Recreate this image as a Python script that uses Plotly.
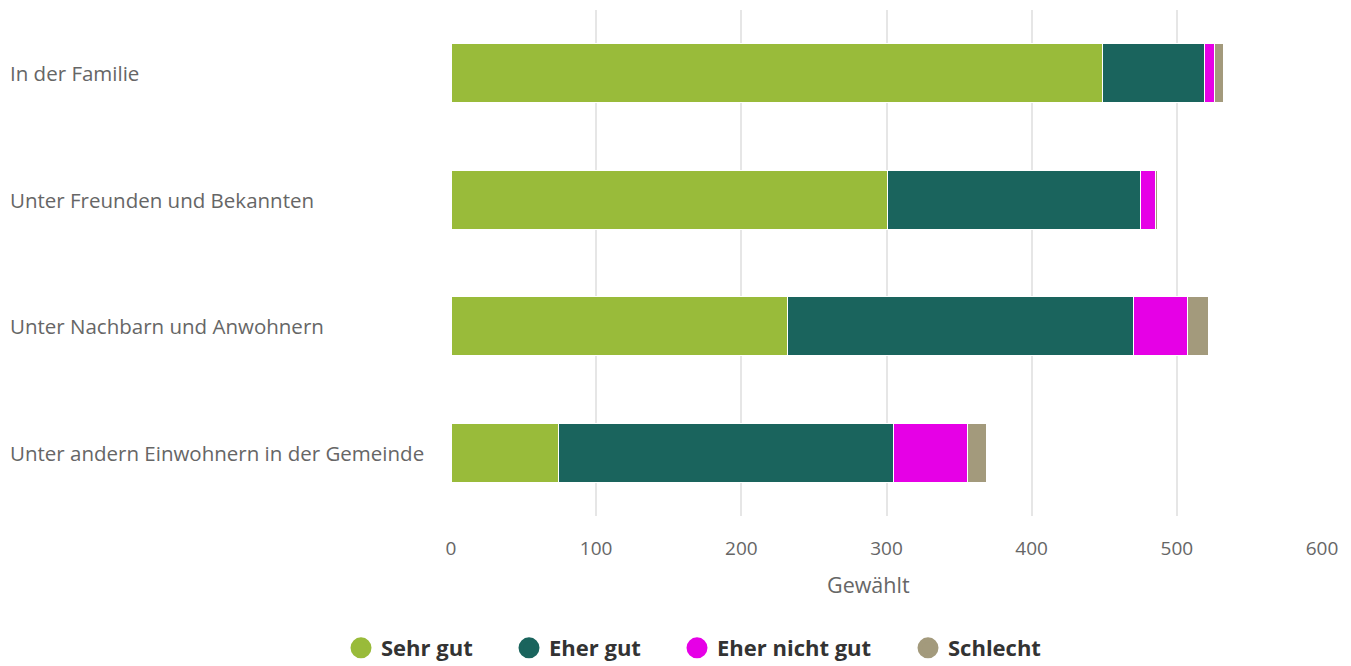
import plotly.graph_objects as go

categories = ["In der Familie", "Unter Freunden und Bekannten",
              "Unter Nachbarn und Anwohnern", "Unter andern Einwohnern in der Gemeinde"]
series_names = ["Sehr gut", "Eher gut", "Eher nicht gut", "Schlecht"]
sehr_gut = [449, 301, 232, 74]
eher_gut = [70, 174, 238, 231]
eher_nicht_gut = [7, 10, 37, 51]
schlecht = [6, 2, 15, 13]
colors = ["#99bb3a", "#1a645d", "#e600e6", "#a39a7c"]
x_ticks = [0, 100, 200, 300, 400, 500, 600]
x_title = "Gewählt"

values = [sehr_gut, eher_gut, eher_nicht_gut, schlecht]
font_family = "Open Sans, Noto Sans, sans-serif"

W, H = 1343, 658
legend_ids = ["legend", "legend2", "legend3", "legend4"]
legend_centers = [361, 529, 697, 928]  # page-pixel centres of legend symbols

fig = go.Figure()
for name, vals, col in zip(series_names, values, colors):
    fig.add_trace(go.Bar(
        y=categories, x=vals, name=name, orientation="h",
        marker=dict(color=col, line=dict(color="white", width=1)),
        width=0.47, showlegend=False,
    ))
for name, col, lid in zip(series_names, colors, legend_ids):
    fig.add_trace(go.Scatter(
        x=[None], y=[None], mode="markers", name=name,
        marker=dict(color=col, size=16, symbol="circle", line=dict(color=col, width=5)),
        showlegend=True, legend=lid,
    ))

for cat in categories:
    fig.add_annotation(
        x=-0.5086, xref="paper", y=cat, yref="y", text=cat,
        xanchor="left", yanchor="middle", showarrow=False,
        font=dict(family=font_family, size=20.5, color="#666666"),
    )

fig.add_annotation(
    x=0.4788, xref="paper", y=-0.1344, yref="paper", text=x_title,
    xanchor="center", yanchor="middle", showarrow=False,
    font=dict(family=font_family, size=21.5, color="#666666"),
)

legend_font = dict(size=22, color="#333333", family=font_family, weight="bold")
legend_layout = {}
for lid, cx in zip(legend_ids, legend_centers):
    legend_layout[lid] = dict(
        orientation="h", x=(cx - 8 - 20) / W, xanchor="left", xref="container",
        y=18 / H, yanchor="middle", yref="container",
        font=legend_font, bgcolor="rgba(0,0,0,0)",
    )

fig.update_layout(
    barmode="stack",
    width=W, height=H,
    margin=dict(l=443, r=29, t=2, b=150),
    plot_bgcolor="white", paper_bgcolor="white",
    font=dict(family=font_family, color="#666666"),
    xaxis=dict(
        range=[0, 600], tickvals=x_ticks, showgrid=True, gridcolor="#e6e6e6",
        gridwidth=2, zeroline=False, showline=False,
        tickfont=dict(size=19, color="#666666"),
        ticks="", ticklabelstandoff=19,
    ),
    yaxis=dict(
        autorange="reversed", showticklabels=False, showgrid=False,
        zeroline=False, showline=False, categoryorder="array", categoryarray=categories,
    ),
    **legend_layout,
)

fig.write_html("out.html")
